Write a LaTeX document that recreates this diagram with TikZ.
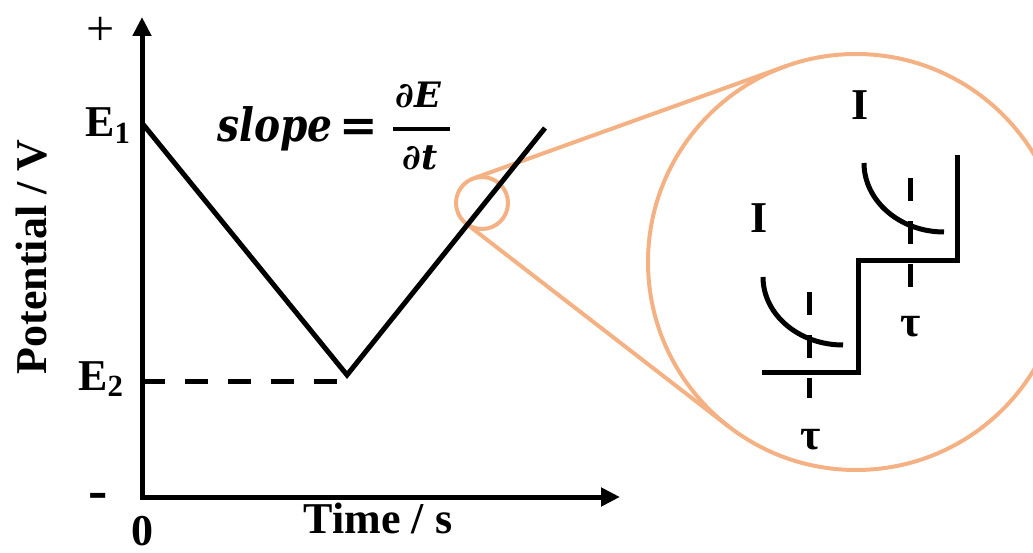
\RequirePackage{fix-cm}
\documentclass[tikz,border=0pt]{standalone}
\usepackage{graphicx}
\usepackage{fontspec}
\setmainfont{Liberation Serif}
\newfontfamily\eqfont{DejaVu Serif}
\usetikzlibrary{arrows.meta}
\definecolor{peach}{RGB}{244,177,131}
\begin{document}
\begin{tikzpicture}[x=1pt,y=-1pt,
  axisline/.style={line width=5pt, line join=miter},
  plotline/.style={line width=5pt, line join=miter},
  dashline/.style={line width=5pt, dash pattern=on 23pt off 20pt},
  zoomline/.style={draw=peach, line width=4pt},
  lbl/.style={font=\fontsize{44}{50}\selectfont\bfseries, inner sep=0pt},
  eqbig/.style={inner sep=0pt, anchor=base, font=\eqfont\fontsize{46}{52}\selectfont\bfseries\itshape},
  eqsmall/.style={inner sep=0pt, anchor=base, font=\eqfont\fontsize{35}{40}\selectfont\bfseries\itshape}]
\useasboundingbox (0,0) rectangle (1033,553);

% key points
\coordinate (O) at (142,497);
\coordinate (ytip) at (142,17);
\coordinate (xtip) at (620,497);
\coordinate (E1pt) at (142,123);
\coordinate (Vmin) at (347,375);
\coordinate (Vend) at (545,128);
\coordinate (E2pt) at (142,381);
\coordinate (E2end) at (337,381);

% zoom circles and tangents
\coordinate (sc) at (482,203);
\coordinate (bc) at (856,262);
\coordinate (tA1) at (466.1,223.6);
\coordinate (tA2) at (728.8,426.6);
\coordinate (tB1) at (473.2,178.5);
\coordinate (tB2) at (785.6,66.3);
\draw[zoomline] (sc) circle[radius=26];
\draw[zoomline] (bc) circle[radius=208];
\draw[zoomline] (tA1) -- (tA2);
\draw[zoomline] (tB1) -- (tB2);

% axes
\draw[axisline, {Triangle[length=19pt,width=18pt]}-{Triangle[length=19pt,width=18pt]}] (ytip) -- (O) -- (xtip);
% sweep
\draw[plotline] (E1pt) -- (Vmin) -- (Vend);
\draw[dashline] (E2pt) -- (E2end);

% labels
\node[inner sep=0pt, font=\fontsize{50}{56}\selectfont] (plus) at (101,31) {+};
\node[lbl, font=\fontsize{58}{60}\selectfont\bfseries] (minus) at (98,501) {-};
\node[lbl, anchor=base west] (E1) at (85,137) {E\textsubscript{1}};
\node[lbl, anchor=base west] (E2) at (78,390) {E\textsubscript{2}};
\node[lbl, anchor=base] (zero) at (142,545) {0};
\node[lbl, anchor=base] (xlab) at (378,533) {Time / s};
\node[lbl, anchor=base, rotate=90] (ylab) at (46,257) {Potential / V};

% slope equation
\node[eqbig, anchor=base west] (slope) at (217,142) {\scalebox{0.85}[1]{slope}};
\node[eqbig, font=\eqfont\fontsize{46}{52}\selectfont\bfseries] (eq) at (359,142) {=};
\node[eqsmall] (num) at (418,108) {∂E};
\node[eqsmall] (den) at (420,170) {∂t};
\coordinate (barL) at (393,129.5);
\coordinate (barR) at (450,129.5);
\draw[line width=4pt] (barL) -- (barR);

% inset
\draw[axisline] (762,372) -- (858,372) -- (858,261) -- (957,261) -- (957,155);
\draw[dashline] (809,292) -- (809,398);
\draw[dashline] (910,178) -- (910,287);
\draw[plotline] (763,277) .. controls (763,314.5) and (798.8,345) .. (843,345);
\draw[plotline] (864,163) .. controls (864,201) and (900,232) .. (944,232);
\node[lbl] (I1) at (759,218) {I};
\node[lbl] (I2) at (860,105) {I};
\node[lbl] (tau1) at (811,440) {τ};
\node[lbl] (tau2) at (911,327) {τ};
\end{tikzpicture}
\end{document}
